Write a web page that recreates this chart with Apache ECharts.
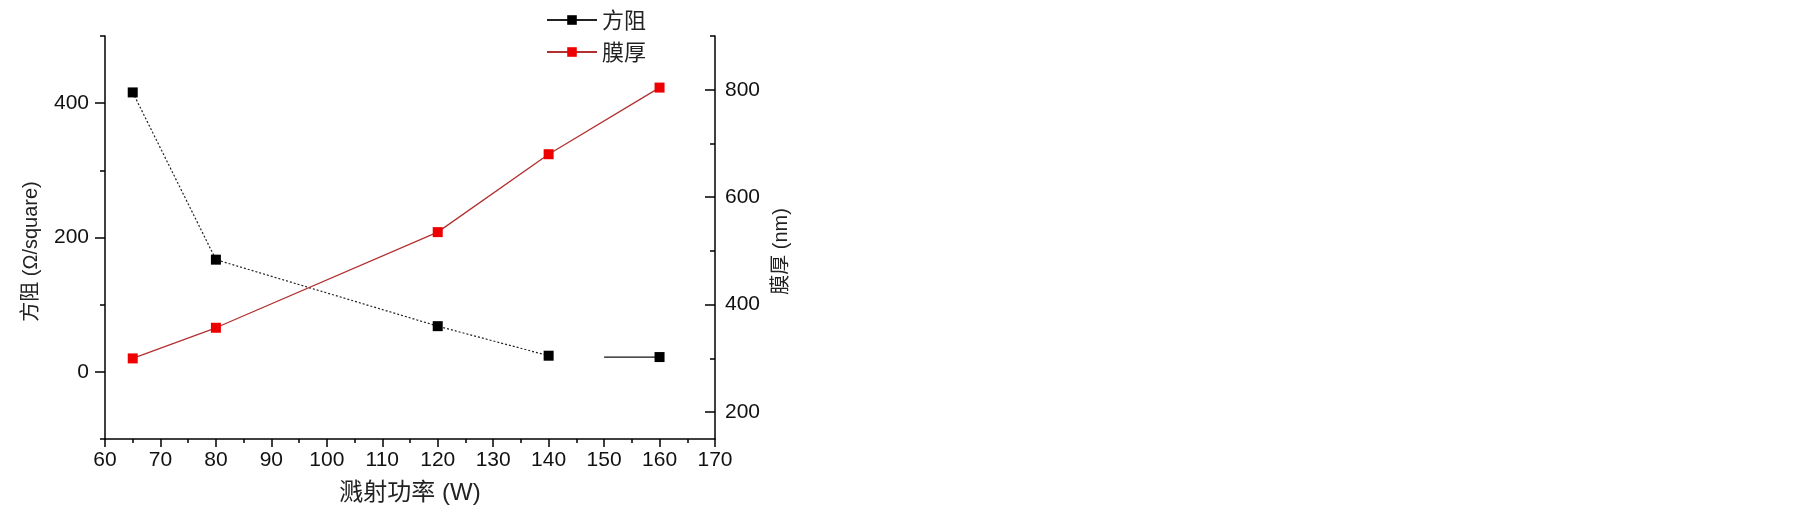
<!DOCTYPE html>
<html>
<head>
<meta charset="utf-8">
<script src="https://cdn.jsdelivr.net/npm/echarts@6/dist/echarts.min.js"></script>
<style>
  html, body { margin: 0; padding: 0; background: #fff; }
  #chart { width: 1805px; height: 515px; }
</style>
</head>
<body>
<div id="chart"></div>
<script>
// 数据
const power = [65, 80, 120, 140, 160]
const sheetRes = [416, 167, 68, 24, 22]
const thickness = [300, 357, 535, 680, 804]
const tailPower = [150, 160] // 方阻最后一段实线
const leftLabels = [0, 200, 400]
const leftMinor = [-100, 100, 300, 500]
const rightLabels = [200, 400, 600, 800]
const rightMinor = [300, 500, 700, 900]

const latin = 'Liberation Sans, Noto Sans CJK SC, sans-serif'
const labelStyle = { color: '#111', fontSize: 21, fontFamily: latin }
const nameStyle = { color: '#222', fontSize: 20, fontFamily: latin }
const black = { color: '#000', width: 1.5 }

// 方阻数据在 140 和 160 之间断开
const resData = power.map((p, i) => [p, sheetRes[i]])
resData.splice(4, 0, [145, '-'])

const chart = echarts.init(document.getElementById('chart'))
const option = {
  animation: false,
  grid: { left: 105, right: 1090, top: 36, bottom: 76 },
  legend: {
    orient: 'vertical',
    left: 541,
    top: 4,
    data: ['方阻', '膜厚'],
    itemWidth: 50,
    itemHeight: 12,
    itemGap: 10,
    lineStyle: { type: 'solid' },
    textStyle: { fontSize: 22, color: '#222', fontFamily: 'Noto Sans CJK SC' }
  },
  xAxis: {
    type: 'value',
    min: 60,
    max: 170,
    interval: 10,
    name: '溅射功率 (W)',
    nameLocation: 'middle',
    nameGap: 42,
    nameTextStyle: Object.assign({}, nameStyle, { fontSize: 24 }),
    axisLine: { onZero: false, lineStyle: black },
    axisTick: { length: 8, lineStyle: black },
    minorTick: { show: true, splitNumber: 2, length: 4, lineStyle: black },
    axisLabel: Object.assign({ margin: 11 }, labelStyle),
    splitLine: { show: false }
  },
  yAxis: [
    {
      type: 'value',
      position: 'left',
      min: -100,
      max: 500,
      name: '方阻 (Ω/square)',
      nameLocation: 'middle',
      nameGap: 64,
      nameRotate: 90,
      nameTextStyle: Object.assign({ padding: [0, 28, 0, 0] }, nameStyle),
      axisLine: { show: true, onZero: false, lineStyle: black },
      axisTick: { length: 10, customValues: leftLabels, lineStyle: black },
      axisLabel: Object.assign({ margin: 16, customValues: leftLabels }, labelStyle),
      splitLine: { show: false }
    },
    {
      type: 'value',
      position: 'right',
      min: 150,
      max: 900,
      name: '膜厚 (nm)',
      nameLocation: 'middle',
      nameGap: 56,
      nameRotate: 90,
      nameTextStyle: Object.assign({ padding: [0, 28, 0, 0] }, nameStyle),
      axisLine: { show: true, onZero: false, lineStyle: black },
      axisTick: { inside: true, length: 10, customValues: rightLabels, lineStyle: black },
      axisLabel: Object.assign({ margin: 10, customValues: rightLabels }, labelStyle),
      splitLine: { show: false }
    },
    {
      type: 'value',
      position: 'left',
      min: -100,
      max: 500,
      axisLine: { show: false, onZero: false },
      axisTick: { length: 5, customValues: leftMinor, lineStyle: black },
      axisLabel: { show: false },
      splitLine: { show: false }
    },
    {
      type: 'value',
      position: 'right',
      min: 150,
      max: 900,
      axisLine: { show: false, onZero: false },
      axisTick: { inside: true, length: 5, customValues: rightMinor, lineStyle: black },
      axisLabel: { show: false },
      splitLine: { show: false }
    }
  ],
  series: [
    {
      name: '方阻',
      type: 'line',
      yAxisIndex: 0,
      data: resData,
      connectNulls: false,
      symbol: 'rect',
      symbolSize: 10,
      itemStyle: { color: '#000' },
      lineStyle: { color: '#222', width: 1.2, type: [2, 2] },
      z: 3
    },
    {
      name: '方阻尾段',
      type: 'line',
      yAxisIndex: 0,
      data: tailPower.map(p => [p, sheetRes[4]]),
      symbol: 'none',
      lineStyle: { color: '#111', width: 1.3 },
      z: 2
    },
    {
      name: '膜厚',
      type: 'line',
      yAxisIndex: 1,
      data: power.map((p, i) => [p, thickness[i]]),
      symbol: 'rect',
      symbolSize: 10,
      itemStyle: { color: '#ee0000' },
      lineStyle: { color: '#b33030', width: 1.3 },
      z: 3
    }
  ]
}
chart.setOption(option)
</script>
</body>
</html>
